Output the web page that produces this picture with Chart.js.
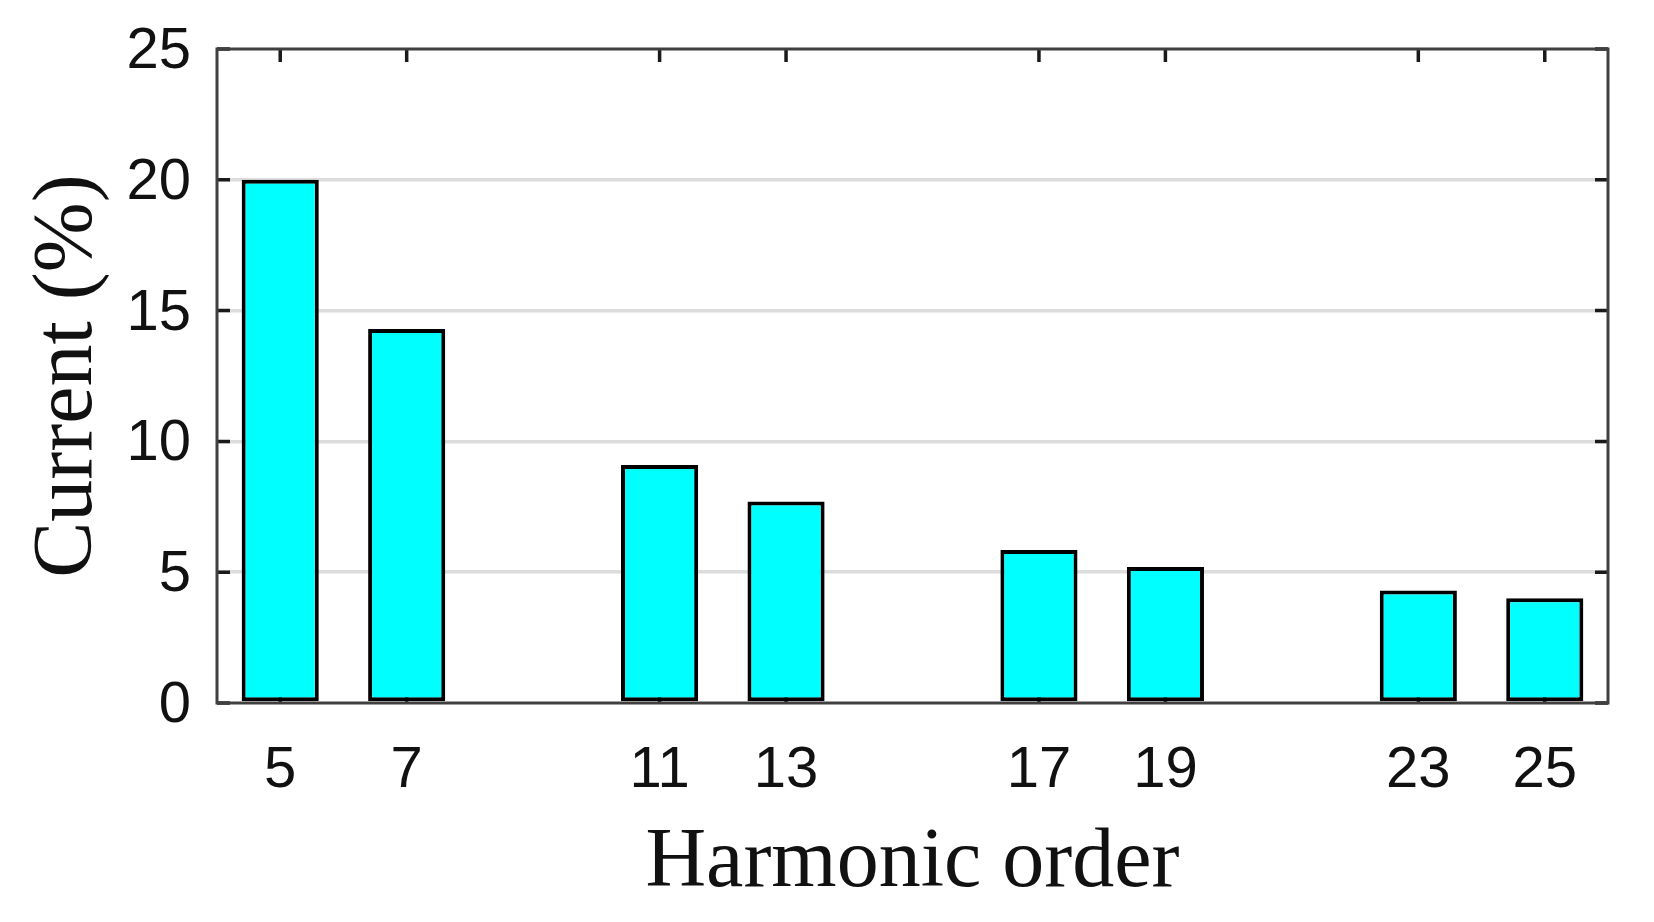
<!DOCTYPE html>
<html>
<head>
<meta charset="utf-8">
<script src="https://cdn.jsdelivr.net/npm/chart.js@4/dist/chart.umd.min.js"></script>
<style>
  html, body { margin: 0; padding: 0; background: #ffffff; }
  #wrap { width: 1654px; height: 922px; }
</style>
</head>
<body>
<div id="wrap"><canvas id="chart" width="1654" height="922"></canvas></div>
<script>
// ---- data ----
const harmonicOrders = [5, 7, 11, 13, 17, 19, 23, 25];
const currentPercent = [20.0, 14.3, 9.1, 7.7, 5.85, 5.2, 4.3, 4.0];
const yTickValues = [0, 5, 10, 15, 20, 25];
const xAxisTitle = 'Harmonic order';
const yAxisTitle = 'Current (%)';

// ---- frame & inward ticks plugin (uses the chart's own scales) ----
const frameTicks = {
  id: 'frameTicks',
  beforeDatasetsDraw(chart) {
    const { ctx, chartArea: a, scales: { x, y } } = chart;
    const len = 13;
    ctx.save();
    ctx.strokeStyle = '#1a1a1a';
    ctx.lineWidth = 3.5;
    ctx.beginPath();
    x.ticks.forEach(t => {
      const px = x.getPixelForValue(t.value);
      ctx.moveTo(px, a.top); ctx.lineTo(px, a.top + len);
      ctx.moveTo(px, a.bottom); ctx.lineTo(px, a.bottom - len);
    });
    y.ticks.forEach(t => {
      const py = y.getPixelForValue(t.value);
      ctx.moveTo(a.left, py); ctx.lineTo(a.left + len, py);
      ctx.moveTo(a.right, py); ctx.lineTo(a.right - len, py);
    });
    ctx.stroke();
    ctx.restore();
  },
  afterDatasetsDraw(chart) {
    const { ctx, chartArea: a } = chart;
    ctx.save();
    ctx.strokeStyle = '#404040';
    ctx.lineWidth = 3;
    ctx.strokeRect(a.left, a.top, a.right - a.left, a.bottom - a.top);
    ctx.restore();
  }
};

new Chart(document.getElementById('chart'), {
  type: 'bar',
  data: {
    datasets: [{
      data: harmonicOrders.map((h, i) => ({ x: h, y: currentPercent[i] })),
      backgroundColor: '#00ffff',
      borderColor: '#000000',
      borderWidth: 4,
      borderSkipped: false,
      barPercentage: 0.61,
      categoryPercentage: 1.0
    }]
  },
  options: {
    responsive: false,
    animation: false,
    devicePixelRatio: 1,
    layout: { padding: { top: 49, right: 46, left: 0, bottom: 0 } },
    plugins: { legend: { display: false }, tooltip: { enabled: false } },
    scales: {
      x: {
        type: 'linear',
        min: 4,
        max: 26,
        offset: false,
        afterBuildTicks: s => { s.ticks = harmonicOrders.map(v => ({ value: v })); },
        afterFit: s => { s.height = 219; s.paddingLeft = 0; s.paddingRight = 0; },
        grid: { display: false, drawTicks: false },
        border: { display: false },
        ticks: {
          autoSkip: false,
          maxRotation: 0,
          padding: 33,
          color: '#111111',
          font: { family: '"Liberation Sans", Arial, sans-serif', size: 58 },
          callback: v => String(v)
        },
        title: {
          display: true,
          text: xAxisTitle,
          color: '#111111',
          font: { family: '"Liberation Serif", "Times New Roman", serif', size: 84 },
          padding: { top: 0, bottom: 8 }
        }
      },
      y: {
        min: 0,
        max: 25,
        afterBuildTicks: s => { s.ticks = yTickValues.map(v => ({ value: v })); },
        afterFit: s => { s.width = 217; s.paddingTop = 0; s.paddingBottom = 0; },
        grid: {
          drawTicks: false,
          lineWidth: 3.5,
          color: c => (c.tick && (c.tick.value === 0 || c.tick.value === 25)) ? 'rgba(0,0,0,0)' : '#dcdcdc'
        },
        border: { display: false },
        ticks: {
          padding: 26,
          labelOffset: 3,
          color: '#111111',
          font: { family: '"Liberation Sans", Arial, sans-serif', size: 58 },
          callback: v => String(v)
        },
        title: {
          display: true,
          text: yAxisTitle,
          color: '#111111',
          font: { family: '"Liberation Serif", "Times New Roman", serif', size: 84 },
          padding: { top: 18.5, bottom: 0 }
        }
      }
    }
  },
  plugins: [frameTicks]
});
</script>
</body>
</html>
